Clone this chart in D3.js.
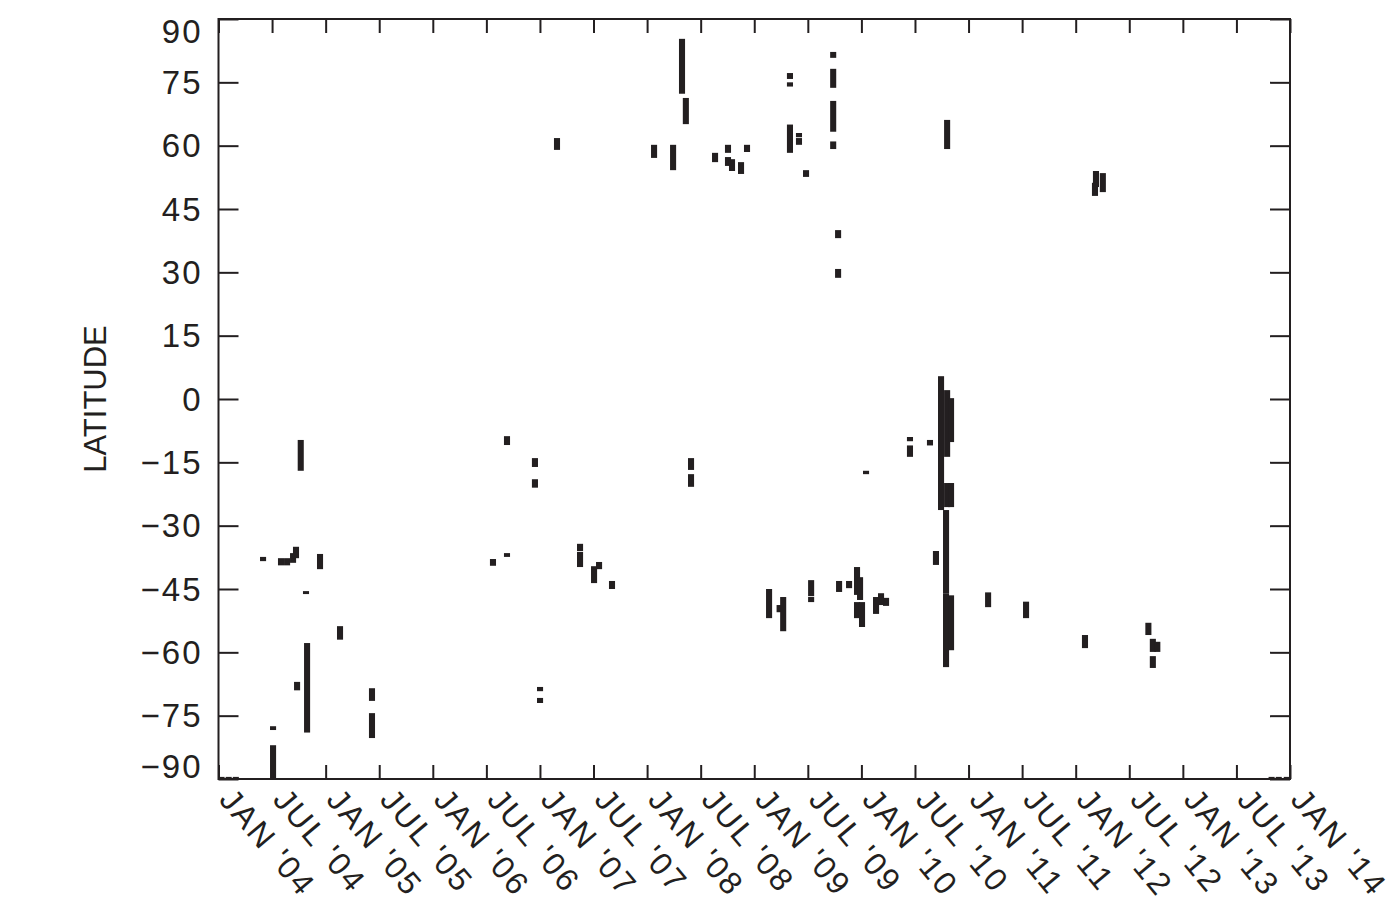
<!DOCTYPE html>
<html>
<head>
<meta charset="utf-8">
<script src="https://cdn.jsdelivr.net/npm/d3@7"></script>
<style>
  body { margin: 0; background: #fff; }
  text { font-family: "Liberation Sans", Arial, sans-serif; fill: #231f20; }
</style>
</head>
<body>
<div id="chart"></div>
<script>
// x is counted in months since JAN 2004
const monthTicks = d3.range(0, 121, 6);
const monthLabels = [
  "JAN '04", "JUL '04", "JAN '05", "JUL '05", "JAN '06", "JUL '06", "JAN '07",
  "JUL '07", "JAN '08", "JUL '08", "JAN '09", "JUL '09", "JAN '10", "JUL '10",
  "JAN '11", "JUL '11", "JAN '12", "JUL '12", "JAN '13", "JUL '13", "JAN '14"
];
const latTicks = d3.range(-90, 91, 15);

// detections: [month, lower latitude, upper latitude]
const events2004 = [
  [0, -90, -89.5], [0.8, -90, -89.5], [1.6, -90, -89.5],
  [4.65, -38.4, -37.4], [5.77, -78.4, -77.5], [5.77, -90, -82],
  [6.66, -39.4, -37.7], [7.34, -39.4, -37.7], [8.01, -38.8, -36.5],
  [8.34, -37.7, -35], [8.46, -69, -67], [8.87, -17, -9.7],
  [9.46, -46.2, -45.5], [9.58, -79, -57.8], [11.03, -40.3, -36.7]
];
const events2005 = [
  [13.27, -57, -53.8], [16.85, -71.5, -68.5], [16.85, -80.3, -74.4]
];
const events2006 = [
  [30.4, -39.5, -37.9], [31.97, -37.4, -36.5], [31.97, -10.9, -8.8],
  [35.1, -16.1, -14], [35.1, -21, -19], [35.67, -69.2, -68.2],
  [35.67, -72, -70.8]
];
const events2007 = [
  [37.57, 59, 61.8], [40.15, -36, -34.3], [40.15, -39.8, -36.2],
  [41.72, -43.6, -39.6], [42.28, -40.3, -38.6], [43.73, -45, -43.1],
  [48.44, 57.1, 60.2]
];
const events2008 = [
  [50.57, 54.2, 60.2], [51.57, 72.3, 85.3], [52.0, 65.1, 71.3],
  [52.58, -16.8, -14], [52.58, -20.8, -17.8], [55.27, 56.1, 58.3],
  [56.72, 58.3, 60.2], [56.72, 55.2, 57.3], [57.17, 54, 56.8],
  [58.18, 53.3, 56.1], [58.85, 58.5, 60.2]
];
const events2009 = [
  [61.32, -51.9, -45], [62.5, -50.5, -48.8], [62.9, -55, -46.9],
  [63.66, 75.8, 77.2], [63.66, 74, 75], [63.66, 58.3, 65],
  [64.67, 62, 63], [64.67, 60.2, 61.8], [65.46, 52.6, 54.2],
  [66.03, -46.7, -42.9], [66.03, -48.1, -46.9],
  [68.5, 80.8, 82.2], [68.5, 73.7, 78.2], [68.5, 63.3, 70.6], [68.5, 59.2, 61],
  [69.05, 38.1, 40], [69.05, 28.7, 30.8], [69.16, -45.7, -43.1],
  [70.28, -44.8, -43.1], [71.17, -46.4, -39.8], [71.51, -47.6, -42.2],
  [71.17, -51.9, -48.1], [71.73, -54, -48.1], [72.18, -17.8, -17],
  [73.3, -50.9, -46.9], [73.86, -48.8, -46], [74.42, -49, -47.1]
];
const events2010 = [
  [77.1, -10, -9], [77.1, -13.7, -11], [79.34, -11, -9.7],
  [80.01, -39.3, -36], [80.58, -26.3, 5.4], [81.26, -13.7, 2.1],
  [81.7, -10.2, 0.2], [81.26, -25.6, -19.9], [81.7, -25.6, -19.9],
  [81.14, -46, -26.3], [81.14, -63.5, -46], [81.7, -59.5, -46.5],
  [81.26, 59.2, 66.1], [85.85, -49.3, -45.8]
];
const events2011 = [
  [90.1, -51.9, -48], [96.7, -59, -55.9], [97.93, 50.2, 54],
  [97.82, 48.1, 51.2], [98.7, 49, 53.5]
];
const events2012 = [
  [103.8, -55.9, -53], [104.3, -59.9, -56.8], [104.8, -59.9, -57.5],
  [104.3, -63.7, -60.9], [117.6, -90, -89.5], [118.4, -90, -89.5],
  [119.3, -90, -89.5]
];

const events = [].concat(events2004, events2005, events2006, events2007,
  events2008, events2009, events2010, events2011, events2012);

const W = 1399, H = 904;
const margin = { top: 19, right: 109, bottom: 125, left: 218.5 };
const width = W - margin.left - margin.right;
const height = H - margin.top - margin.bottom;
const barMonths = 0.68;
const ink = "#231f20";

const svg = d3.select("#chart").append("svg")
  .attr("width", W)
  .attr("height", H);

const g = svg.append("g")
  .attr("transform", `translate(${margin.left},${margin.top})`);

const x = d3.scaleLinear().domain([0, 120]).range([0, width]);
const y = d3.scaleLinear().domain([-90, 90]).range([height, 0]);

// detection bars
g.selectAll("rect.event")
  .data(events)
  .enter()
  .append("rect")
  .attr("class", "event")
  .attr("x", d => x(d[0]))
  .attr("width", d => x(d[0] + barMonths) - x(d[0]))
  .attr("y", d => y(d[2]))
  .attr("height", d => Math.max(1.5, y(d[1]) - y(d[2])))
  .attr("fill", ink);

// axes with inward ticks
const yLeft = g.append("g")
  .call(d3.axisLeft(y).tickValues(latTicks).tickSize(-20).tickPadding(16)
    .tickFormat(d => d < 0 ? "\u2212" + Math.abs(d) : d));
const yRight = g.append("g")
  .attr("transform", `translate(${width},0)`)
  .call(d3.axisRight(y).tickValues(latTicks).tickSize(-20).tickFormat(""));
const xBottom = g.append("g")
  .attr("transform", `translate(0,${height})`)
  .call(d3.axisBottom(x).tickValues(monthTicks).tickSize(-14).tickFormat(""));
const xTop = g.append("g")
  .call(d3.axisTop(x).tickValues(monthTicks).tickSize(-14).tickFormat(""));

[yLeft, yRight, xBottom, xTop].forEach(a => {
  a.select(".domain").remove();
  a.selectAll(".tick line").attr("stroke", ink).attr("stroke-width", 2);
});

yLeft.selectAll(".tick text")
  .attr("font-size", 33)
  .attr("letter-spacing", 2)
  .attr("fill", ink)
  .attr("dy", d => d === 90 ? "0.72em" : d === -90 ? "-0.05em" : "0.34em");

// frame
g.append("rect")
  .attr("width", width)
  .attr("height", height)
  .attr("fill", "none")
  .attr("stroke", ink)
  .attr("stroke-width", 2);

// rotated month labels
g.selectAll("text.month")
  .data(monthTicks)
  .enter()
  .append("text")
  .attr("class", "month")
  .attr("transform", d => `translate(${x(d) + 18},${height + 6}) rotate(50)`)
  .attr("dy", "0.75em")
  .attr("font-size", 32)
  .attr("letter-spacing", 2.5)
  .text((d, i) => monthLabels[i]);

// y title
g.append("text")
  .attr("transform", `translate(${-113},${height / 2}) rotate(-90)`)
  .attr("text-anchor", "middle")
  .attr("font-size", 31)
  .text("LATITUDE");
</script>
</body>
</html>
